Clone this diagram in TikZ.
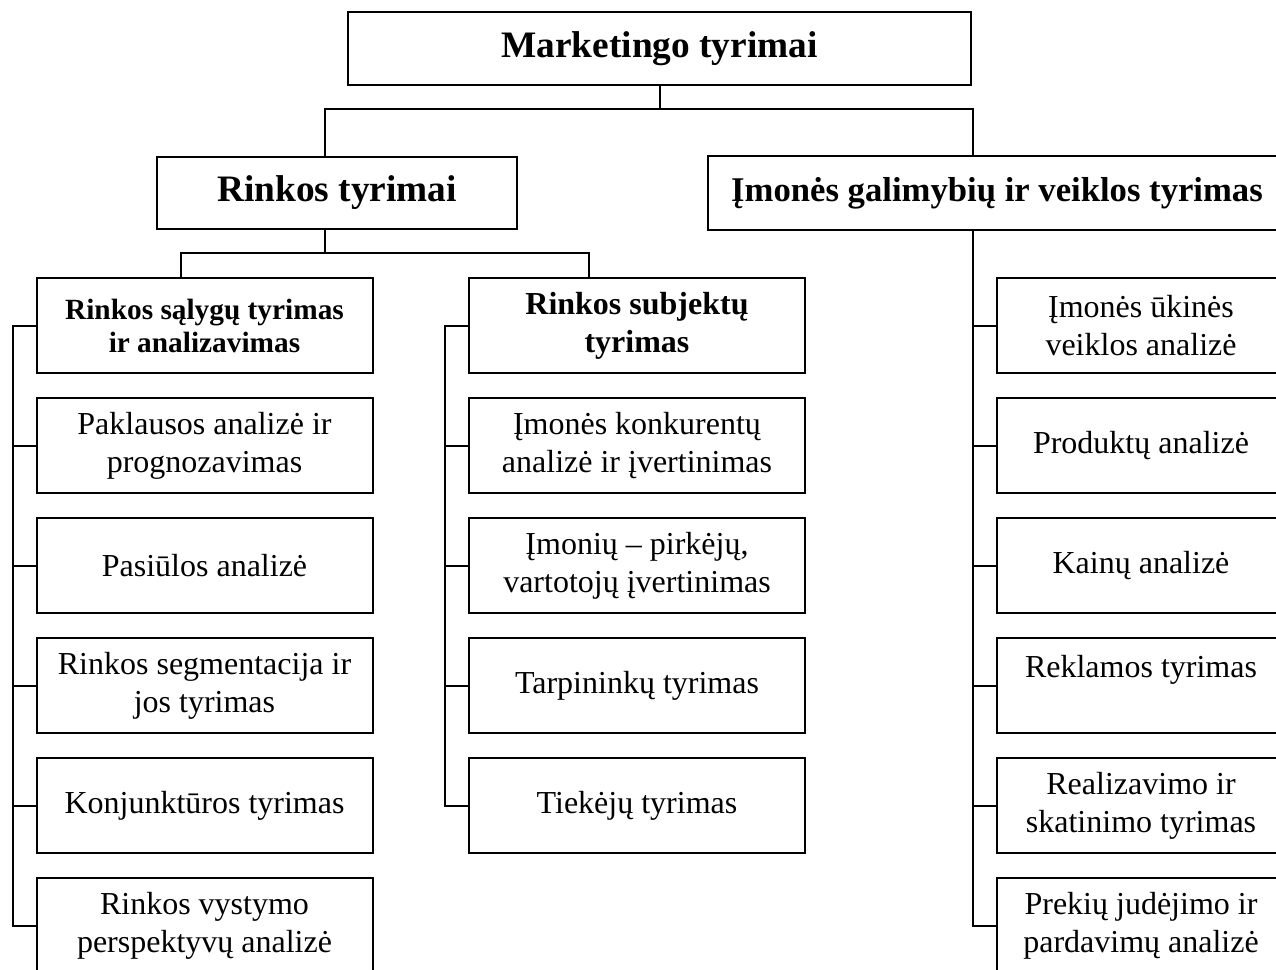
\documentclass[tikz,border=0pt]{standalone}
\usepackage{fontspec}
\setmainfont{Liberation Serif}
\begin{document}
\begin{tikzpicture}[x=0.375pt, y=-0.375pt, line width=0.75pt,
    box/.style={draw, line width=0.75pt, inner sep=0pt, align=center,
        font=\fontsize{12}{14.25}\selectfont,
        minimum width=126pt, minimum height=35.6pt},
    rbox/.style={box, minimum width=108pt},
    headbox/.style={draw, line width=0.75pt, inner sep=0pt, align=center,
        font=\fontsize{14}{16}\selectfont\bfseries, minimum height=27.4pt}]
    \clip (0,0) rectangle (1276,969);
    % top levels
    \node[headbox, minimum width=233.6pt] (mt) at (659.5,48.5) {Marketingo tyrimai};
    \node[headbox, minimum width=135pt, minimum height=27pt] (rt) at (337,193) {Rinkos tyrimai};
    \node[headbox, minimum width=216.75pt, minimum height=27.75pt,
        font=\fontsize{13}{15}\selectfont\bfseries] (ig) at (997,193) {Įmonės galimybių ir veiklos tyrimas};
    % left column
    \node[box, font=\fontsize{11}{12.4}\selectfont\bfseries] (rs) at (204.5,325.5) {Rinkos sąlygų tyrimas\\ir analizavimas};
    \node[box] (l1) at (204.5,445.5) {Paklausos analizė ir\\prognozavimas};
    \node[box] (l2) at (204.5,565.5) {Pasiūlos analizė};
    \node[box] (l3) at (204.5,685.5) {Rinkos segmentacija ir\\jos tyrimas};
    \node[box] (l4) at (204.5,805.5) {Konjunktūros tyrimas};
    \node[box] (l5) at (204.5,925.5) {Rinkos vystymo\\perspektyvų analizė};
    % middle column
    \node[box, font=\fontsize{12}{14.25}\selectfont\bfseries] (rsub) at (637,325.5) {Rinkos subjektų\\tyrimas};
    \node[box] (m1) at (637,445.5) {Įmonės konkurentų\\analizė ir įvertinimas};
    \node[box] (m2) at (637,565.5) {Įmonių – pirkėjų,\\vartotojų įvertinimas};
    \node[box] (m3) at (637,685.5) {Tarpininkų tyrimas};
    \node[box] (m4) at (637,805.5) {Tiekėjų tyrimas};
    % right column
    \node[rbox] (r1) at (1141,325.5) {Įmonės ūkinės\\veiklos analizė};
    \node[rbox] (r2) at (1141,445.5) {Produktų analizė};
    \node[rbox] (r3) at (1141,565.5) {Kainų analizė};
    \node[rbox] (r4) at (1141,685.5) {Reklamos tyrimas\\~};
    \node[rbox] (r5) at (1141,805.5) {Realizavimo ir\\skatinimo tyrimas};
    \node[rbox] (r6) at (1141,925.5) {Prekių judėjimo ir\\pardavimų analizė};
    % buses
    \coordinate (b1l) at (325,109);
    \coordinate (b1r) at (973,109);
    \coordinate (b2l) at (181,253);
    \coordinate (b2r) at (589,253);
    \coordinate (tl) at (13,0);
    \coordinate (tm) at (445,0);
    \draw (mt.south) -- (mt.south |- b1l);
    \draw (rt.north -| b1l) -- (b1l) -- (b1r) -- (ig.north -| b1r);
    \draw (rt.south -| b1l) -- (b1l |- b2l);
    \draw (rs.north -| b2l) -- (b2l) -- (b2r) -- (rsub.north -| b2r);
    % trunks
    \draw (rs.west) -- (rs.west -| tl) -- (l5.west -| tl) -- (l5.west);
    \foreach \n in {l1,l2,l3,l4} \draw (\n.west) -- (\n.west -| tl);
    \draw (rsub.west) -- (rsub.west -| tm) -- (m4.west -| tm) -- (m4.west);
    \foreach \n in {m1,m2,m3} \draw (\n.west) -- (\n.west -| tm);
    \draw (ig.south -| b1r) -- (r6.west -| b1r) -- (r6.west);
    \foreach \n in {r1,r2,r3,r4,r5} \draw (\n.west) -- (\n.west -| b1r);
\end{tikzpicture}
\end{document}
